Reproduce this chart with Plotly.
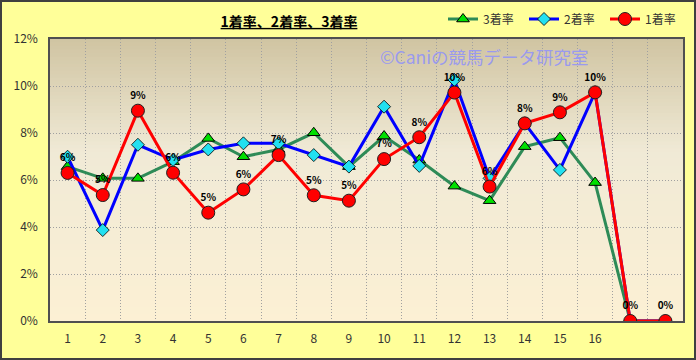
import plotly.graph_objects as go

# ---- data ----
categories = list(range(1, 19))
tick_vals = list(range(1, 17))
tick_labels = [str(i) for i in range(1, 17)]
y_ticks = [0, 2, 4, 6, 8, 10, 12]
y_tick_labels = [f"{v}%" for v in y_ticks]

rate_1st = [6.30, 5.36, 8.95, 6.31, 4.61, 5.60, 7.06, 5.35, 5.12, 6.89, 7.82, 9.72, 5.72, 8.41, 8.88, 9.73, 0, 0]
rate_2nd = [6.99, 3.87, 7.50, 6.85, 7.30, 7.56, 7.56, 7.06, 6.57, 9.12, 6.60, 10.26, 6.07, 8.41, 6.43, 9.73, 0, 0]
rate_3rd = [6.57, 6.07, 6.07, 6.78, 7.77, 6.99, 7.30, 8.01, 6.57, 7.87, 6.85, 5.74, 5.12, 7.42, 7.80, 5.89, 0, 0]

W, H = 696, 360
ML, MR, MT, MB = 50, 13, 39, 39
JP = "Noto Sans CJK JP"

fig = go.Figure()

fig.add_trace(go.Scatter(
    x=categories, y=rate_3rd, name="3着率", mode="lines+markers",
    line=dict(color="#2E8B57", width=3),
    marker=dict(symbol="triangle-up", size=11, color="#00E000",
                line=dict(color="#000000", width=1)),
))
fig.add_trace(go.Scatter(
    x=categories, y=rate_2nd, name="2着率", mode="lines+markers",
    line=dict(color="#0000FF", width=3),
    marker=dict(symbol="diamond", size=10, color="#22E0F0",
                line=dict(color="#000000", width=0.8)),
))
fig.add_trace(go.Scatter(
    x=categories, y=rate_1st, name="1着率", mode="lines+markers+text",
    line=dict(color="#FF0000", width=3),
    marker=dict(symbol="circle", size=13, color="#FF0000",
                line=dict(color="#202020", width=1)),
    texttemplate="<b>%{y:.0f}%</b>", textposition="top center",
    textfont=dict(family=JP, size=10, color="#000000"),
))

# gradient plot background (bands)
shapes = []
N = 80
top = (208, 196, 162)
mid = (240, 234, 214)
bot = (252, 240, 212)
for i in range(N):
    f = (i + 0.5) / N  # 0 bottom -> 1 top
    if f > 0.6:
        t = (f - 0.6) / 0.4
        c = tuple(int(round(mid[k] + (top[k] - mid[k]) * t)) for k in range(3))
    else:
        t = f / 0.6
        c = tuple(int(round(bot[k] + (mid[k] - bot[k]) * t)) for k in range(3))
    shapes.append(dict(type="rect", xref="paper", yref="paper",
                       x0=0, x1=1, y0=i / N, y1=min(1, (i + 1.3) / N),
                       fillcolor=f"rgb{c}", line=dict(width=0), layer="below"))

# outer figure border
pw, ph = W - ML - MR, H - MT - MB
shapes.append(dict(type="rect", xref="paper", yref="paper",
                   x0=(-ML + 1) / pw, x1=(W - ML - 1) / pw,
                   y0=(-MB + 1) / ph, y1=(H - MB - 1) / ph,
                   line=dict(color="#404040", width=2), layer="above"))

fig.update_layout(
    width=W, height=H,
    margin=dict(l=ML, r=MR, t=MT, b=MB, autoexpand=False),
    paper_bgcolor="#FFFF99",
    plot_bgcolor="rgba(0,0,0,0)",
    shapes=shapes,
    font=dict(family=JP, size=12, color="#333333"),
    title=dict(text="<b><u>1着率、2着率、3着率</u></b>",
               font=dict(family=JP, size=14, color="#000000"),
               x=289 / W, xanchor="center", xref="container",
               y=1 - 22 / H, yanchor="middle", yref="container"),
    legend=dict(orientation="h", xref="paper", yref="paper",
                x=(443 - ML) / pw, xanchor="left",
                y=(H - MB - 19) / ph, yanchor="middle",
                bgcolor="rgba(0,0,0,0)", entrywidth=36, entrywidthmode="pixels",
                font=dict(family=JP, size=12, color="#333333"),
                traceorder="normal", itemwidth=30),
    showlegend=True,
    annotations=[dict(text="©Caniの競馬データ研究室", xref="paper", yref="paper",
                      x=(484 - ML) / pw, y=(H - MB - 57) / ph,
                      xanchor="center", yanchor="middle", showarrow=False,
                      font=dict(family=JP, size=17.5, color="#9A9AEE"))],
)

fig.update_xaxes(
    range=[0.5, 18.5], tickmode="array", tickvals=tick_vals, ticktext=tick_labels,
    showgrid=False, zeroline=False,
    showline=True, linecolor="#505050", linewidth=1.5, mirror=True,
    ticks="outside", ticklen=6, tickcolor="rgba(0,0,0,0)",
    tickfont=dict(family=JP, size=12, color="#333333"),
    minor=dict(tickmode="linear", tick0=0.5, dtick=1, showgrid=True,
               gridcolor="#a0a0a0", griddash="1px,2px", gridwidth=1, ticks=""),
)
fig.update_yaxes(
    range=[0, 12], tickmode="array", tickvals=y_ticks, ticktext=y_tick_labels,
    showgrid=True, gridcolor="#a0a0a0", griddash="1px,2px", gridwidth=1,
    zeroline=False,
    showline=True, linecolor="#505050", linewidth=1.5, mirror=True,
    ticks="outside", ticklen=8, tickcolor="rgba(0,0,0,0)",
    tickfont=dict(family=JP, size=12, color="#333333"),
)

fig.write_html("out.html")
